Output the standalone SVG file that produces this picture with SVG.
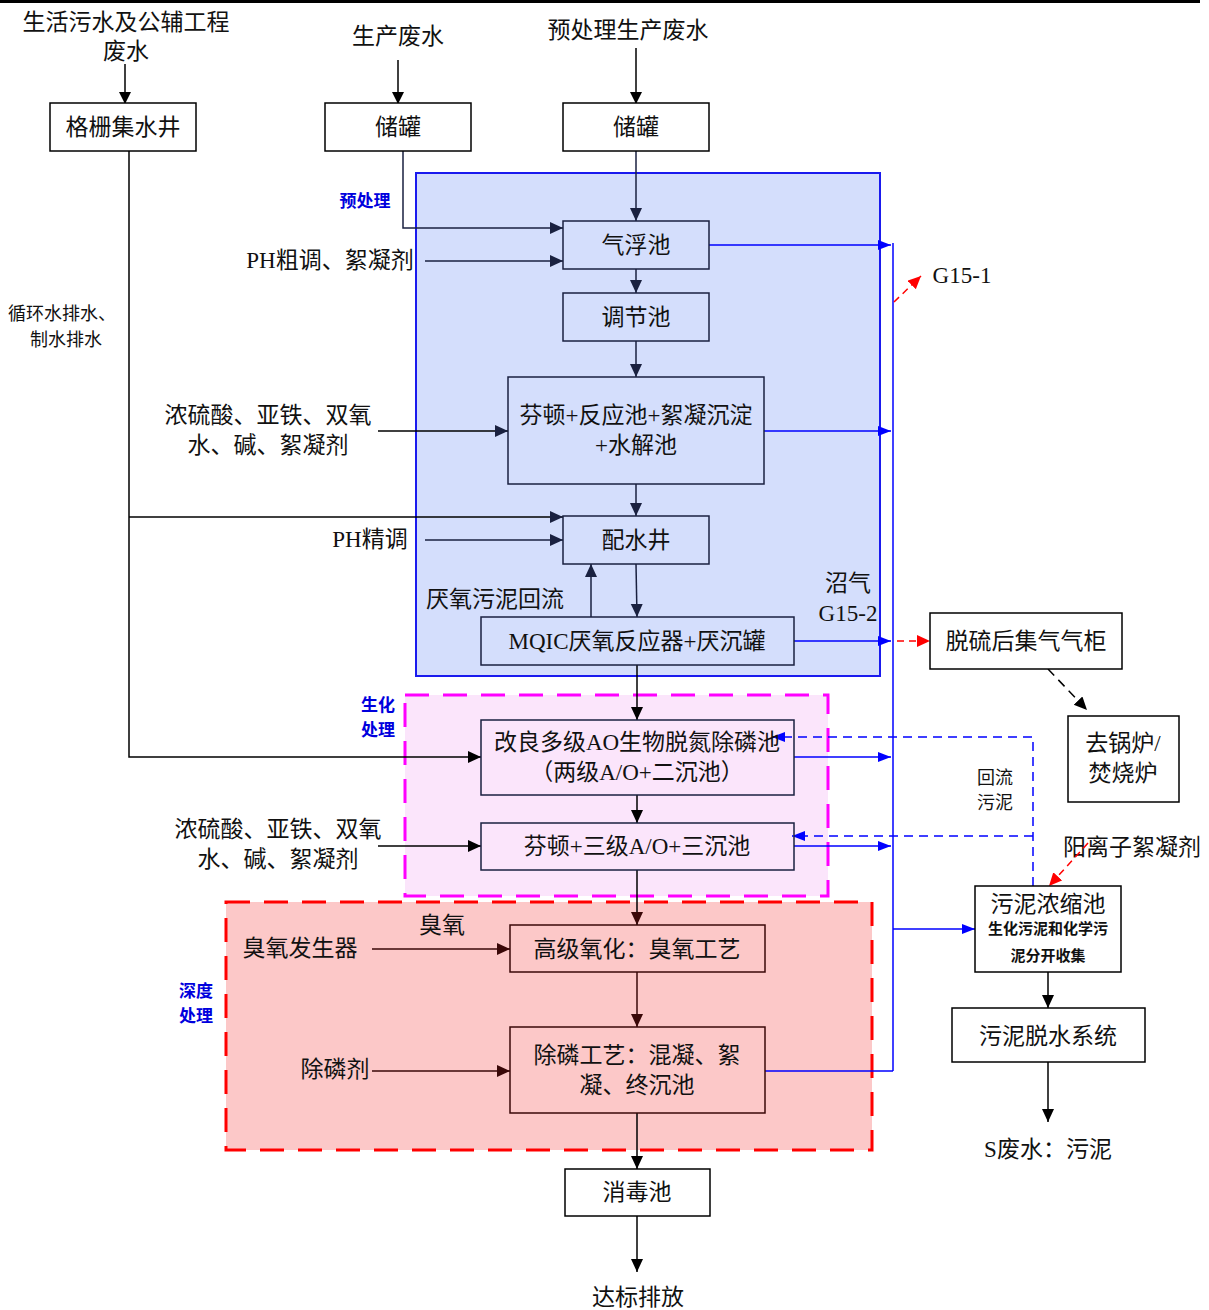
<svg xmlns="http://www.w3.org/2000/svg" width="1209" height="1310" viewBox="0 0 1209 1310">
<defs>
<marker id="ak" markerWidth="12" markerHeight="14" refX="11" refY="6" orient="auto" markerUnits="userSpaceOnUse"><path d="M0,0 L12,6 L0,12 z" fill="#000"/></marker>
<marker id="an" markerWidth="14" markerHeight="14" refX="13" refY="6" orient="auto" markerUnits="userSpaceOnUse"><path d="M0,0 L13,6 L0,12 z" fill="#1a2140"/></marker>
<marker id="ab" markerWidth="14" markerHeight="14" refX="13" refY="5" orient="auto" markerUnits="userSpaceOnUse"><path d="M0,0 L13,5 L0,10 z" fill="#0000ff"/></marker>
<marker id="ar" markerWidth="14" markerHeight="14" refX="13" refY="6" orient="auto" markerUnits="userSpaceOnUse"><path d="M0,0 L13,6 L0,12 z" fill="#ff0000"/></marker>
<marker id="abk" markerWidth="14" markerHeight="14" refX="13" refY="6" orient="auto" markerUnits="userSpaceOnUse"><path d="M0,0 L13,6 L0,12 z" fill="#000"/></marker>
<marker id="abr" markerWidth="14" markerHeight="14" refX="13" refY="6" orient="auto" markerUnits="userSpaceOnUse"><path d="M0,0 L13,6 L0,12 z" fill="#3a0808"/></marker>
</defs>
<style>
text{font-family:"Liberation Serif","Noto Sans CJK SC",serif;fill:#111}
.t{font-size:23px;text-anchor:middle}
.s{font-size:18px;text-anchor:middle}
.lbl{font-size:17px;fill:#0000dd;font-weight:bold;text-anchor:middle}
.box{fill:#fff;stroke:#000;stroke-width:1.5}
.nb{fill:none;stroke:#1a2140;stroke-width:1.5}
.nbr{fill:none;stroke:#3a0808;stroke-width:1.5}
.ln{fill:none;stroke:#000;stroke-width:1.5}
.lnn{fill:none;stroke:#1a2140;stroke-width:1.5}
.lnr{fill:none;stroke:#3a0808;stroke-width:1.5}
.bl{fill:none;stroke:#0000ff;stroke-width:1.5}
.bd{fill:none;stroke:#0000ff;stroke-width:1.5;stroke-dasharray:9 6}
.rd{fill:none;stroke:#ff0000;stroke-width:1.5;stroke-dasharray:7 5}
.kd{fill:none;stroke:#000;stroke-width:1.5;stroke-dasharray:9 6}
</style>
<rect x="0" y="0" width="1200" height="3" fill="#000"/>
<g id="regions">
<rect id="r-pre" x="416" y="173" width="464" height="503" fill="#d4defc" stroke="#1a1aee" stroke-width="2"/>
<rect id="r-bio" x="405" y="695" width="423" height="201" fill="#fbe5fb" stroke="#ff00ff" stroke-width="3" stroke-dasharray="24 14"/>
<rect id="r-deep" x="226" y="902" width="646" height="248" fill="#fcc8c8" stroke="#ff0000" stroke-width="3" stroke-dasharray="24 14"/>
<text class="lbl" x="365" y="207">预处理</text>
<text class="lbl" x="378" y="711">生化</text>
<text class="lbl" x="378" y="736">处理</text>
<text class="lbl" x="196" y="997">深度</text>
<text class="lbl" x="196" y="1022">处理</text>
</g>
<g id="labels">
<text class="t" x="126" y="30">生活污水及公辅工程</text>
<text class="t" x="126" y="59">废水</text>
<text class="t" x="398" y="44">生产废水</text>
<text class="t" x="628" y="38">预处理生产废水</text>
<text class="s" x="62" y="320">循环水排水、</text>
<text class="s" x="66" y="346">制水排水</text>
<text class="t" x="330" y="268">PH粗调、絮凝剂</text>
<text class="t" x="268" y="423">浓硫酸、亚铁、双氧</text>
<text class="t" x="268" y="453">水、碱、絮凝剂</text>
<text class="t" x="370" y="547">PH精调</text>
<text class="t" x="495" y="607">厌氧污泥回流</text>
<text class="t" x="848" y="591">沼气</text>
<text class="t" x="848" y="621">G15-2</text>
<text class="t" x="962" y="283">G15-1</text>
<text class="t" x="278" y="837">浓硫酸、亚铁、双氧</text>
<text class="t" x="278" y="867">水、碱、絮凝剂</text>
<text class="t" x="300" y="956">臭氧发生器</text>
<text class="t" x="442" y="933">臭氧</text>
<text class="t" x="335" y="1077">除磷剂</text>
<text class="s" x="995" y="784">回流</text>
<text class="s" x="995" y="809">污泥</text>
<text class="t" x="1132" y="855">阳离子絮凝剂</text>
<text class="t" x="1048" y="1157">S废水：污泥</text>
<text class="t" x="638" y="1305">达标排放</text>
</g>
<g id="connectors">
<line class="ln" x1="125" y1="64" x2="125" y2="103" marker-end="url(#ak)"/>
<line class="ln" x1="398" y1="60" x2="398" y2="103" marker-end="url(#ak)"/>
<line class="ln" x1="636" y1="48" x2="636" y2="103" marker-end="url(#ak)"/>
<polyline class="ln" points="129,151 129,757 481,757" marker-end="url(#abk)"/>
<polyline class="ln" points="129,517 563,517" marker-end="url(#an)"/>
<polyline class="lnn" points="403,151 403,228 563,228" marker-end="url(#an)"/>
<line class="lnn" x1="425" y1="261" x2="563" y2="261" marker-end="url(#an)"/>
<line class="lnn" x1="636" y1="151" x2="636" y2="221" marker-end="url(#an)"/>
<line class="lnn" x1="636" y1="269" x2="636" y2="293" marker-end="url(#an)"/>
<line class="lnn" x1="636" y1="341" x2="636" y2="377" marker-end="url(#an)"/>
<line class="ln" x1="378" y1="431" x2="508" y2="431" marker-end="url(#an)"/>
<line class="lnn" x1="636" y1="484" x2="636" y2="516" marker-end="url(#an)"/>
<line class="lnn" x1="425" y1="540" x2="563" y2="540" marker-end="url(#an)"/>
<line class="lnn" x1="636" y1="564" x2="637" y2="617" marker-end="url(#an)"/>
<line class="lnn" x1="591" y1="617" x2="591" y2="564" marker-end="url(#an)"/>
<line class="ln" x1="637" y1="665" x2="637" y2="720" marker-end="url(#abk)"/>
<line class="ln" x1="637" y1="795" x2="637" y2="823" marker-end="url(#abk)"/>
<line class="ln" x1="378" y1="846" x2="481" y2="846" marker-end="url(#abk)"/>
<line class="ln" x1="637" y1="870" x2="637" y2="925" marker-end="url(#abr)"/>
<line class="lnr" x1="372" y1="949" x2="510" y2="949" marker-end="url(#abr)"/>
<line class="lnr" x1="637" y1="972" x2="637" y2="1027" marker-end="url(#abr)"/>
<line class="lnr" x1="372" y1="1071" x2="510" y2="1071" marker-end="url(#abr)"/>
<line class="ln" x1="637" y1="1113" x2="637" y2="1169" marker-end="url(#abk)"/>
<line class="ln" x1="637" y1="1216" x2="637" y2="1272" marker-end="url(#abk)"/>
<line class="bl" x1="893" y1="243" x2="893" y2="1071"/>
<line class="bl" x1="709" y1="245" x2="891" y2="245" marker-end="url(#ab)"/>
<line class="bl" x1="764" y1="431" x2="891" y2="431" marker-end="url(#ab)"/>
<line class="bl" x1="794" y1="641" x2="891" y2="641" marker-end="url(#ab)"/>
<line class="bl" x1="794" y1="757" x2="891" y2="757" marker-end="url(#ab)"/>
<line class="bl" x1="794" y1="846" x2="891" y2="846" marker-end="url(#ab)"/>
<line class="bl" x1="765" y1="1071" x2="893" y2="1071"/>
<line class="bl" x1="893" y1="929" x2="975" y2="929" marker-end="url(#ab)"/>
<line class="rd" x1="894" y1="302" x2="921" y2="276" marker-end="url(#ar)"/>
<line class="rd" x1="897" y1="641" x2="930" y2="641" marker-end="url(#ar)"/>
<line class="kd" x1="1048" y1="669" x2="1087" y2="710" marker-end="url(#abk)"/>
<polyline class="bd" points="1033,886 1033,737 772,737" marker-end="url(#ab)"/>
<polyline class="bd" points="1033,836 792,836" marker-end="url(#ab)"/>
<line class="rd" x1="1088" y1="843" x2="1049" y2="886" marker-end="url(#ar)"/>
<line class="ln" x1="1048" y1="972" x2="1048" y2="1008" marker-end="url(#abk)"/>
<line class="ln" x1="1048" y1="1062" x2="1048" y2="1122" marker-end="url(#abk)"/>
</g>
<g id="n-geshan"><rect class="box" x="50" y="103" width="146" height="48"/><text class="t" x="123" y="135">格栅集水井</text></g>
<g id="n-chuguan1"><rect class="box" x="325" y="103" width="146" height="48"/><text class="t" x="398" y="135">储罐</text></g>
<g id="n-chuguan2"><rect class="box" x="563" y="103" width="146" height="48"/><text class="t" x="636" y="135">储罐</text></g>
<g id="n-qifu"><rect class="nb" x="563" y="221" width="146" height="48"/><text class="t" x="636" y="253">气浮池</text></g>
<g id="n-tiaojie"><rect class="nb" x="563" y="293" width="146" height="48"/><text class="t" x="636" y="325">调节池</text></g>
<g id="n-fenton1"><rect class="nb" x="508" y="377" width="256" height="107"/><text class="t" x="636" y="423">芬顿+反应池+絮凝沉淀</text><text class="t" x="636" y="453">+水解池</text></g>
<g id="n-peishui"><rect class="nb" x="563" y="516" width="146" height="48"/><text class="t" x="636" y="548">配水井</text></g>
<g id="n-mqic"><rect class="nb" x="481" y="617" width="313" height="48"/><text class="t" x="637" y="649">MQIC厌氧反应器+厌沉罐</text></g>
<g id="n-gasholder"><rect class="box" x="930" y="613" width="192" height="56"/><text class="t" x="1026" y="649">脱硫后集气气柜</text></g>
<g id="n-boiler"><rect class="box" x="1068" y="716" width="111" height="86"/><text class="t" x="1123" y="751">去锅炉/</text><text class="t" x="1123" y="781">焚烧炉</text></g>
<g id="n-ao"><rect class="nb" x="481" y="720" width="313" height="75"/><text class="t" x="637" y="750">改良多级AO生物脱氮除磷池</text><text class="t" x="637" y="780">（两级A/O+二沉池）</text></g>
<g id="n-fenton2"><rect class="nb" x="481" y="823" width="313" height="47"/><text class="t" x="637" y="854">芬顿+三级A/O+三沉池</text></g>
<g id="n-ozone"><rect class="nbr" x="510" y="925" width="255" height="47"/><text class="t" x="637" y="957">高级氧化：臭氧工艺</text></g>
<g id="n-phos"><rect class="nbr" x="510" y="1027" width="255" height="86"/><text class="t" x="637" y="1063">除磷工艺：混凝、絮</text><text class="t" x="637" y="1093">凝、终沉池</text></g>
<g id="n-disinfect"><rect class="box" x="565" y="1169" width="145" height="47"/><text class="t" x="637" y="1200">消毒池</text></g>
<g id="n-thicken"><rect class="box" x="975" y="886" width="146" height="86"/><text class="t" x="1048" y="912">污泥浓缩池</text><text x="1048" y="934" style="font-size:15px;font-weight:bold;text-anchor:middle">生化污泥和化学污</text><text x="1048" y="961" style="font-size:15px;font-weight:bold;text-anchor:middle">泥分开收集</text></g>
<g id="n-dewater"><rect class="box" x="952" y="1008" width="193" height="54"/><text class="t" x="1048" y="1044">污泥脱水系统</text></g>
</svg>
